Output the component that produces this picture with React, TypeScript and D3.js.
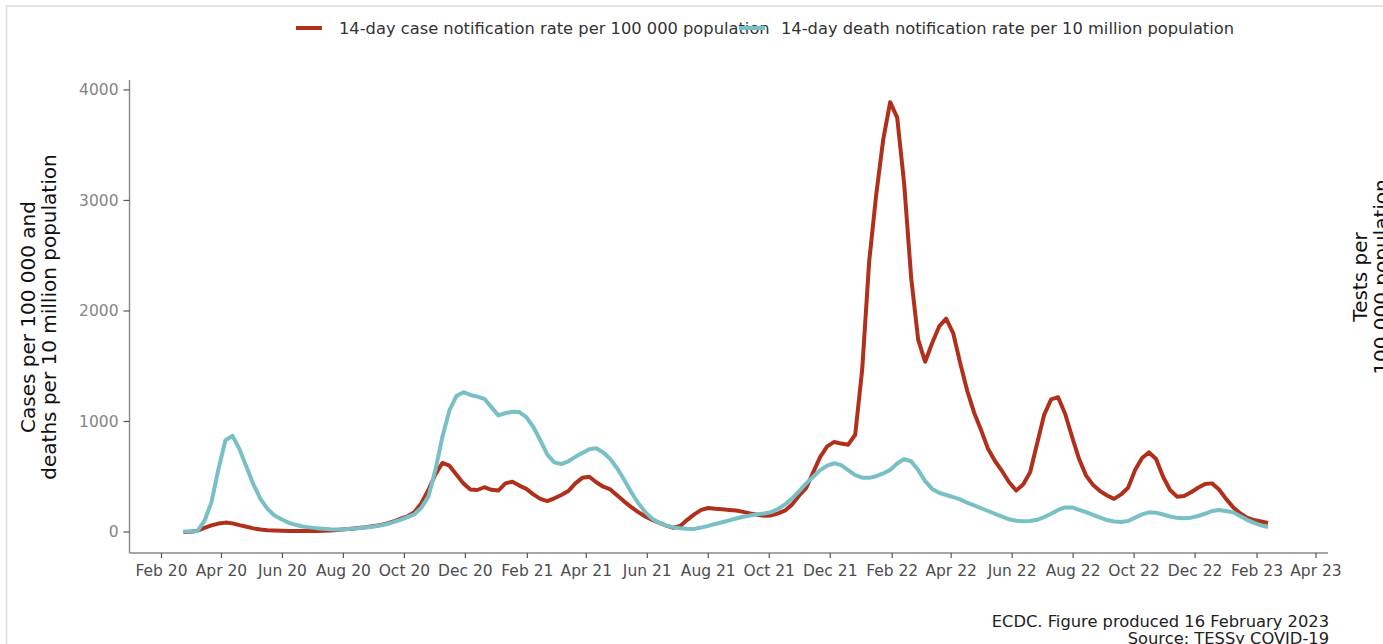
import React from 'react';
import * as d3 from 'd3';

// First week (week-ending Sunday) of the weekly series
const FIRST_WEEK = '2020-02-23';

// 14-day case notification rate per 100 000 population (weekly)
const caseRate = [
  0, 2, 12, 38, 60, 76, 85, 78, 62, 48,
  33, 22, 16, 13, 11, 10, 10, 10, 9, 10,
  12, 14, 18, 24, 30, 36, 43, 52, 62, 76,
  95, 120, 140, 180, 260, 380, 520, 625, 600, 520,
  440, 385, 380, 405, 382, 375, 440, 455, 420, 390,
  340, 300, 280, 305, 335, 370, 440, 490, 500, 450,
  410, 385, 330, 275, 225, 180, 140, 110, 82, 58,
  38, 55, 110, 160, 200, 217, 210, 205, 200, 195,
  182, 168, 157, 148, 150, 168, 195, 250, 330, 400,
  540, 680, 775, 815, 800, 790, 880, 1470, 2450, 3050,
  3550, 3890, 3750, 3150, 2300, 1740, 1540, 1710, 1860, 1930,
  1800, 1530, 1280, 1080, 920, 750, 640, 550, 450, 375,
  430, 540, 800, 1060, 1200, 1220, 1070, 860, 660, 510,
  425, 370, 330, 300, 340, 400, 560, 670, 720, 660,
  500, 380, 320, 325, 360, 400, 435, 440, 385, 300,
  225, 170, 130, 108, 95, 82,
];

// 14-day death notification rate per 10 million population (weekly)
const deathRate = [
  5, 5, 10, 100, 270, 570, 830, 870, 750, 590,
  430, 300, 210, 150, 115, 85, 65, 50, 42, 35,
  30, 25, 22, 25, 30, 33, 40, 48, 58, 70,
  90, 110, 135, 160, 220, 320, 560, 860, 1100, 1230,
  1265, 1240, 1225, 1205, 1130, 1055, 1075, 1088, 1085, 1040,
  950, 830, 700, 630, 615, 640, 680, 715, 748, 758,
  720, 660, 575, 470, 360, 260, 180, 120, 82, 58,
  42, 34, 30, 28, 40, 55, 72, 88, 105, 122,
  138, 150, 160, 168, 180, 210, 250, 305, 370, 440,
  500, 560, 600, 622, 605, 560, 515, 492, 490, 505,
  530, 562, 620, 660, 640, 560, 460, 390, 355, 335,
  315, 295, 265, 240, 215, 190, 165, 140, 115, 102,
  98, 100, 110, 135, 165, 200, 222, 222, 200, 180,
  155, 130, 108, 95, 90, 100, 130, 160, 178, 175,
  158, 140, 128, 125, 130, 145, 165, 190, 200, 190,
  178, 145, 110, 82, 60, 45,
];

const yTicks = [0, 1000, 2000, 3000, 4000];
const xTickLabels = [
  'Feb 20', 'Apr 20', 'Jun 20', 'Aug 20', 'Oct 20', 'Dec 20',
  'Feb 21', 'Apr 21', 'Jun 21', 'Aug 21', 'Oct 21', 'Dec 21',
  'Feb 22', 'Apr 22', 'Jun 22', 'Aug 22', 'Oct 22', 'Dec 22',
  'Feb 23', 'Apr 23',
];
const seriesNames = [
  '14-day case notification rate per 100 000 population',
  '14-day death notification rate per 10 million population',
];
const seriesColors = ['#b0301c', '#79bfc6'];
const yTitle = ['Cases per 100 000 and', 'deaths per 10 million population'];
const y2Title = ['Tests per', '100 000 population'];
const footer = ['ECDC. Figure produced 16 February 2023', 'Source: TESSy COVID-19'];

const FONT = 'DejaVu Sans';
const W = 1383;
const H = 644;

export default function App() {
  const parseDay = d3.utcParse('%Y-%m-%d');
  const parseTick = d3.utcParse('%b %y');
  const start = parseDay(FIRST_WEEK) as Date;
  const weeks = caseRate.map((_, i) => d3.utcDay.offset(start, 7 * i));

  const x = d3
    .scaleUtc()
    .domain([parseDay('2019-12-31') as Date, parseDay('2023-04-13') as Date])
    .range([129.5, 1328]);
  const y = d3.scaleLinear().domain([-190, 4090]).range([553, 80]);

  const makeLine = (vals: number[]) =>
    d3
      .line<number>()
      .x((_, i) => x(weeks[i]))
      .y((d) => y(d))
      .curve(d3.curveLinear)(vals) as string;

  const [x0, x1] = x.range();
  const [yb, yt] = y.range();

  return (
    <svg
      width={W}
      height={H}
      style={{ position: 'absolute', left: 0, top: 0, background: '#fff' }}
      fontFamily={FONT}
    >
      {/* outer frame */}
      <rect x={6.5} y={6} width={W + 20} height={H + 20} fill="#fff" stroke="#dcdcdc" strokeWidth={1.6} />

      {/* legend */}
      <g>
        <text x={339} y={28} dy="0.35em" fontSize={16.3} fill="#333">
          {seriesNames[0]}
        </text>
        <line x1={296} x2={322} y1={28} y2={28} stroke={seriesColors[0]} strokeWidth={4} />
        <line x1={739} x2={765} y1={28} y2={28} stroke={seriesColors[1]} strokeWidth={4} />
        <text x={781} y={28} dy="0.35em" fontSize={16.3} fill="#333">
          {seriesNames[1]}
        </text>
      </g>

      {/* axes */}
      <line x1={x0} x2={x0} y1={yt} y2={yb} stroke="#888" strokeWidth={1.4} />
      <line x1={x0} x2={x1} y1={yb} y2={yb} stroke="#888" strokeWidth={1.4} />

      {yTicks.map((t) => (
        <g key={t}>
          <line x1={x0 - 6} x2={x0} y1={y(t)} y2={y(t)} stroke="#555" strokeWidth={1.2} />
          <text x={x0 - 11} y={y(t)} dy="0.35em" textAnchor="end" fontSize={15.5} fill="#858585">
            {t}
          </text>
        </g>
      ))}

      {xTickLabels.map((lab) => {
        const xx = x(parseTick(lab) as Date);
        return (
          <g key={lab}>
            <line x1={xx} x2={xx} y1={yb} y2={yb + 5} stroke="#555" strokeWidth={1.2} />
            <text x={xx} y={576} textAnchor="middle" fontSize={15.5} fill="#4d4d4d">
              {lab}
            </text>
          </g>
        );
      })}

      {/* axis titles */}
      <text transform="translate(35,317) rotate(-90)" textAnchor="middle" fontSize={20} fill="#111">
        {yTitle[0]}
      </text>
      <text transform="translate(56,317) rotate(-90)" textAnchor="middle" fontSize={20} fill="#111">
        {yTitle[1]}
      </text>
      <text transform="translate(1367,277) rotate(-90)" textAnchor="middle" fontSize={20} fill="#111">
        {y2Title[0]}
      </text>
      <text transform="translate(1388,277) rotate(-90)" textAnchor="middle" fontSize={20} fill="#111">
        {y2Title[1]}
      </text>

      {/* series */}
      <path d={makeLine(caseRate)} fill="none" stroke={seriesColors[0]} strokeWidth={4} strokeLinejoin="round" />
      <path d={makeLine(deathRate)} fill="none" stroke={seriesColors[1]} strokeWidth={4} strokeLinejoin="round" />

      {/* footer */}
      <text x={1329} y={627} textAnchor="end" fontSize={16.3} fill="#222">
        {footer[0]}
      </text>
      <text x={1329} y={644} textAnchor="end" fontSize={16.3} fill="#222">
        {footer[1]}
      </text>
    </svg>
  );
}
